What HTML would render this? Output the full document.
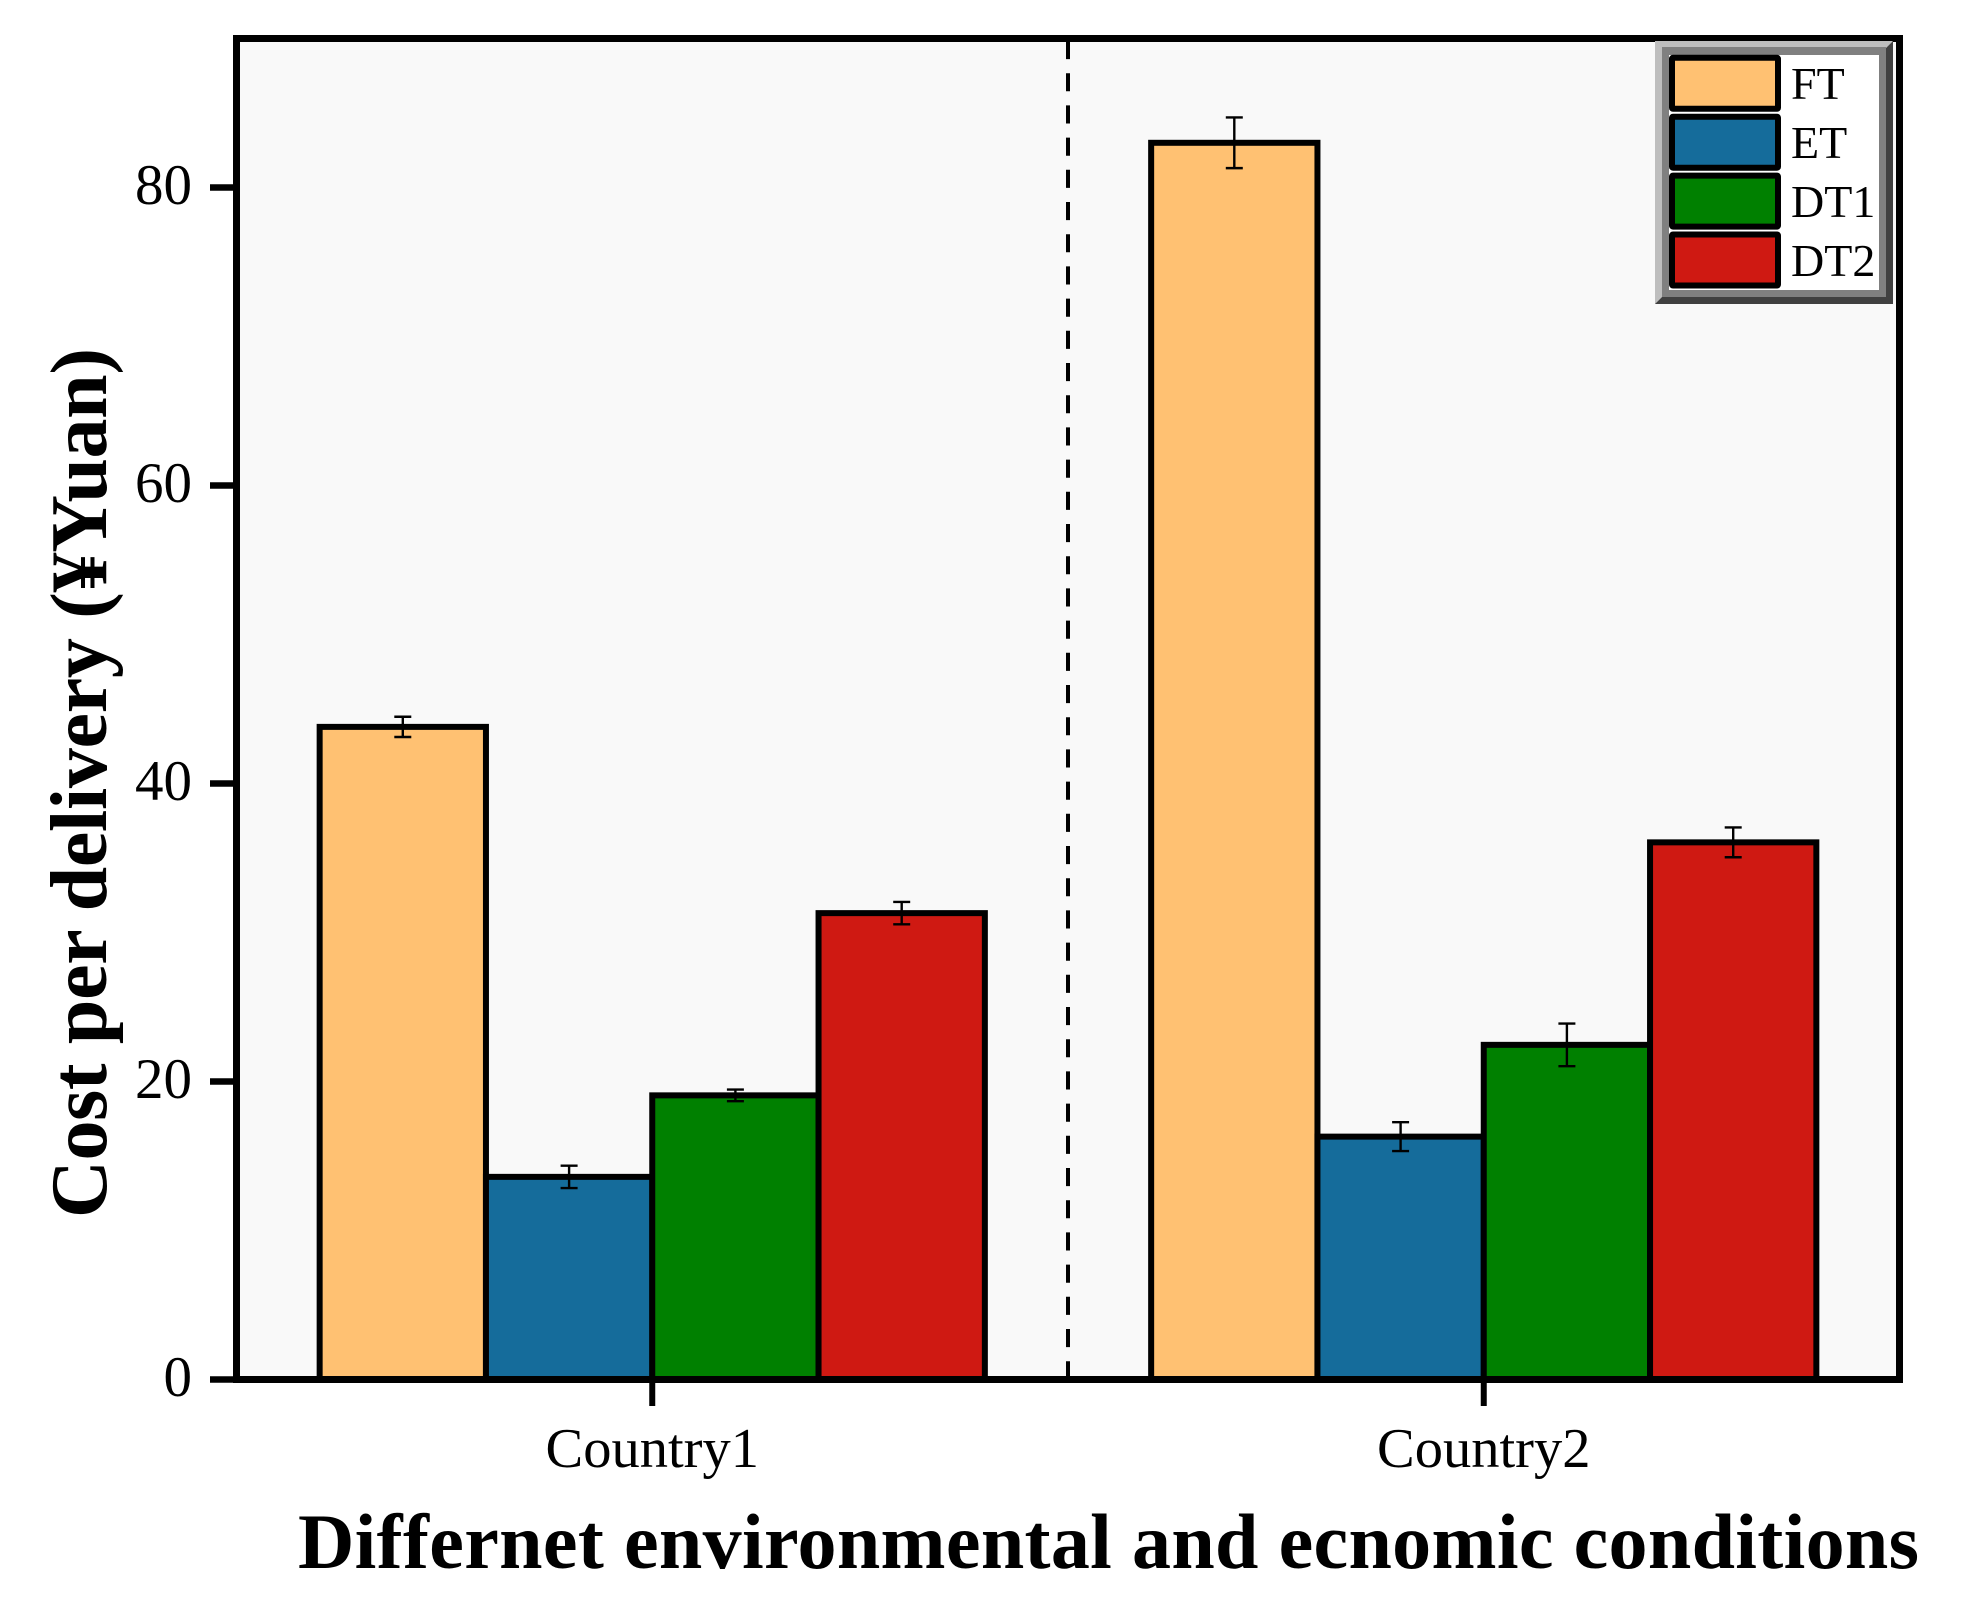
<!DOCTYPE html>
<html>
<head>
<meta charset="utf-8">
<title>Cost per delivery chart</title>
<style>
html,body{margin:0;padding:0;background:#fff;width:1975px;height:1619px;overflow:hidden}
svg{display:block}
text{font-family:"Liberation Serif",serif;fill:#000}
</style>
</head>
<body>
<svg id="chart" xmlns="http://www.w3.org/2000/svg" width="1975" height="1619" viewBox="0 0 1975 1619"></svg>
<script>
const categories = ['Country1', 'Country2'];
const seriesNames = ['FT', 'ET', 'DT1', 'DT2'];
const seriesColors = ['#FFC172', '#156C9B', '#008000', '#CF1912'];
const valuesFT = [43.8, 83.0];
const valuesET = [13.6, 16.3];
const valuesDT1 = [19.07, 22.46];
const valuesDT2 = [31.3, 36.05];
const errorsFT = [0.68, 1.7];
const errorsET = [0.75, 0.97];
const errorsDT1 = [0.39, 1.43];
const errorsDT2 = [0.75, 1.0];
const yTicks = [0, 20, 40, 60, 80];
const yMax = 90;

const seriesValues = [valuesFT, valuesET, valuesDT1, valuesDT2];
const seriesErrors = [errorsFT, errorsET, errorsDT1, errorsDT2];
const svg = document.getElementById('chart');
const NS = 'http://www.w3.org/2000/svg';

const plotLeft = 236.5, plotRight = 1899.5, plotBottom = 1379.5, plotTop = 38.5;
function yScale(v) { return plotBottom - (v / yMax) * (plotBottom - plotTop); }
const groupWidth = (plotRight - plotLeft) / categories.length;
function xCenter(i) { return plotLeft + groupWidth * (i + 0.5); }
const barWidth = groupWidth * 0.8 / seriesNames.length;
function xBar(groupIndex, seriesIndex) {
  return xCenter(groupIndex) + (seriesIndex - seriesNames.length / 2) * barWidth;
}

function make(tag, attrs, parent) {
  const el = document.createElementNS(NS, tag);
  for (const k in attrs) el.setAttribute(k, attrs[k]);
  (parent || svg).appendChild(el);
  return el;
}

// plot background
const bg = make('rect', {x: plotLeft, y: plotTop, width: plotRight - plotLeft, height: plotBottom - plotTop, fill: '#F9F9F9'});



// divider
const divider = make('line', {x1: (plotLeft + plotRight) / 2, x2: (plotLeft + plotRight) / 2, y1: 41, y2: 1376, stroke: '#000', 'stroke-width': 4, 'stroke-dasharray': '18.1 14.1'});



// bars
seriesNames.forEach(function (name, s) {
  categories.forEach(function (cat, g) {
    const v = seriesValues[s][g];
    const x = xBar(g, s);
    const bar = make('rect', {x: x, y: yScale(v), width: barWidth, height: plotBottom - yScale(v), fill: seriesColors[s], stroke: '#000', 'stroke-width': 6});
    
    
  });
});
// error bars
seriesNames.forEach(function (name, s) {
  categories.forEach(function (cat, g) {
    const v = seriesValues[s][g];
    const e = seriesErrors[s][g];
    const cx = xBar(g, s) + barWidth / 2;
    const grp = make('g', {stroke: '#000', 'stroke-width': 2.4});
    
    
    make('line', {x1: cx, x2: cx, y1: yScale(v + e), y2: yScale(v - e)}, grp);
    make('line', {x1: cx - 8.5, x2: cx + 8.5, y1: yScale(v + e), y2: yScale(v + e)}, grp);
    make('line', {x1: cx - 8.5, x2: cx + 8.5, y1: yScale(v - e), y2: yScale(v - e)}, grp);
  });
});

// frame
const frame = make('rect', {x: plotLeft, y: plotTop, width: plotRight - plotLeft, height: plotBottom - plotTop, fill: 'none', stroke: '#000', 'stroke-width': 7});



// y axis
yTicks.forEach(function (t) {
  const tick = make('line', {x1: 210, x2: 234, y1: yScale(t), y2: yScale(t), stroke: '#000', 'stroke-width': 6.5});
  
  
  const label = make('text', {x: 192, y: yScale(t) + 16.5, 'text-anchor': 'end', 'font-size': 57});
  label.textContent = String(t);
  
  
});

// x axis
categories.forEach(function (cat, g) {
  const tick = make('line', {x1: xCenter(g), x2: xCenter(g), y1: 1380, y2: 1406, stroke: '#000', 'stroke-width': 6});
  
  
  const label = make('text', {x: xCenter(g), y: 1467, 'text-anchor': 'middle', 'font-size': 56.5});
  label.textContent = cat;
  
  
});

// axis titles
const xTitle = make('text', {x: 298, y: 1568, 'font-size': 78, 'font-weight': 'bold', textLength: 1621, lengthAdjust: 'spacing'});
xTitle.textContent = 'Differnet environmental and ecnomic conditions';



const yTitle = make('text', {transform: 'translate(106 1218) rotate(-90)', 'font-size': 80, 'font-weight': 'bold', textLength: 870, lengthAdjust: 'spacing'});
yTitle.textContent = 'Cost per delivery (\u00A5Yuan)';



// legend
const legend = make('g', {});


make('polygon', {points: '1655,41 1893,41 1886,48 1662,48 1662,297 1655,304', fill: '#BEBEBE'}, legend);
make('polygon', {points: '1893,41 1893,304 1655,304 1662,297 1886,297 1886,48', fill: '#404040'}, legend);
make('rect', {x: 1662, y: 47, width: 224, height: 250, fill: '#808080'}, legend);
make('rect', {x: 1669, y: 55, width: 210, height: 235, fill: '#fff'}, legend);
seriesNames.forEach(function (name, s) {
  const rowTop = 57.8 + s * 58.9;
  const swatch = make('rect', {x: 1672, y: rowTop, width: 106, height: 51, rx: 1, fill: seriesColors[s], stroke: '#000', 'stroke-width': 6}, legend);
  
  
  const label = make('text', {x: 1791, y: rowTop + 41.3, 'font-size': 46}, legend);
  label.textContent = name;
  
  
});
</script>
</body>
</html>
